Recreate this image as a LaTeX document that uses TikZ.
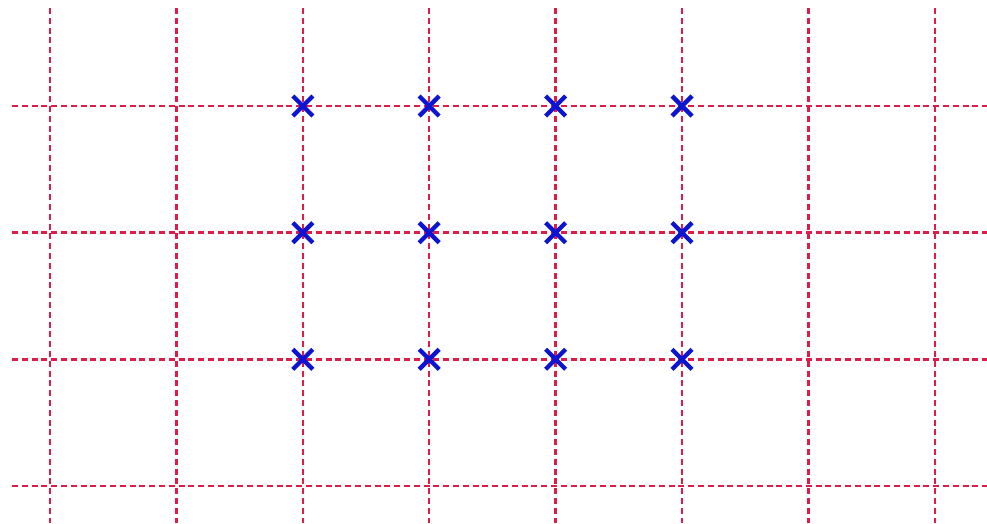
\documentclass[tikz,border=0pt]{standalone}
\usetikzlibrary{shapes.misc}
\definecolor{gridred}{RGB}{222,28,72}
\definecolor{crossblue}{RGB}{10,20,210}
\tikzset{
  gridline/.style={draw=gridred, line width=2.5pt, dash pattern=on 6pt off 3.8pt},
  xmark/.style={cross out, draw=crossblue, line width=4.3pt, minimum size=20pt, inner sep=0pt, outer sep=0pt}
}
\begin{document}
\begin{tikzpicture}[x=1pt,y=-1pt]
\useasboundingbox (0,0) rectangle (987,523);
\foreach \gx in {50,176.4,302.8,429.2,555.6,682,808.4,934.8}
  \draw[gridline] (\gx,8) -- (\gx,523);
\foreach \gy in {106,232.7,359.3,486}
  \draw[gridline] (12,\gy) -- (987,\gy);
\foreach \gx [count=\i] in {302.8,429.2,555.6,682}
  \foreach \gy [count=\j] in {106,232.7,359.3}
    \node[xmark] (m\i\j) at (\gx,\gy) {};
\end{tikzpicture}
\end{document}
